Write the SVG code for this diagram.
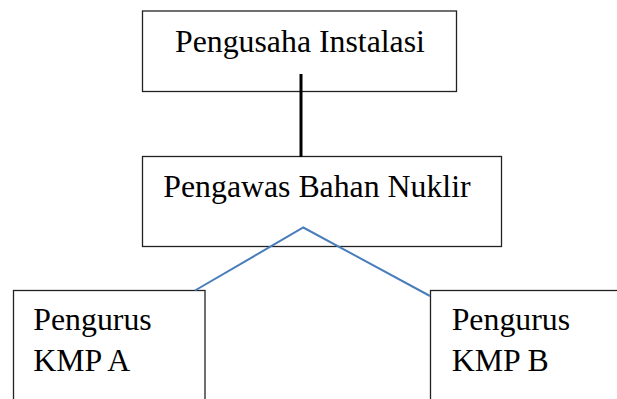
<svg xmlns="http://www.w3.org/2000/svg" width="617" height="399" viewBox="0 0 617 399">
<style>
.box{fill:#fff;stroke:#222;stroke-width:1.3}
.t{font-family:"Liberation Serif","Times New Roman",serif;font-size:31.8px;fill:#000}
</style>
<rect x="0" y="0" width="617" height="399" fill="#fff"/>
<g id="pengusaha">
<rect class="box" x="142.5" y="11" width="314" height="80.5"/>
<text class="t" x="175" y="51.7">Pengusaha Instalasi</text>
</g>
<g id="pengawas">
<rect class="box" x="142.5" y="156.5" width="359" height="90"/>
<text class="t" x="163.3" y="196.7">Pengawas Bahan Nuklir</text>
</g>
<g id="kmpA">
<rect class="box" x="13.5" y="290.5" width="191.5" height="130"/>
<text class="t" x="33.3" y="330">Pengurus</text>
<text class="t" x="33.3" y="370.5">KMP A</text>
</g>
<g id="kmpB">
<rect class="box" x="430.5" y="290.5" width="200" height="130"/>
<text class="t" x="451.7" y="330">Pengurus</text>
<text class="t" x="451.7" y="370.5">KMP B</text>
</g>
<g id="connectors">
<line x1="301" y1="74" x2="301" y2="157" stroke="#000" stroke-width="3"/>
<polyline points="195,290.5 303.3,227.5 430,296" fill="none" stroke="#4a7ebb" stroke-width="2"/>
</g>
</svg>
